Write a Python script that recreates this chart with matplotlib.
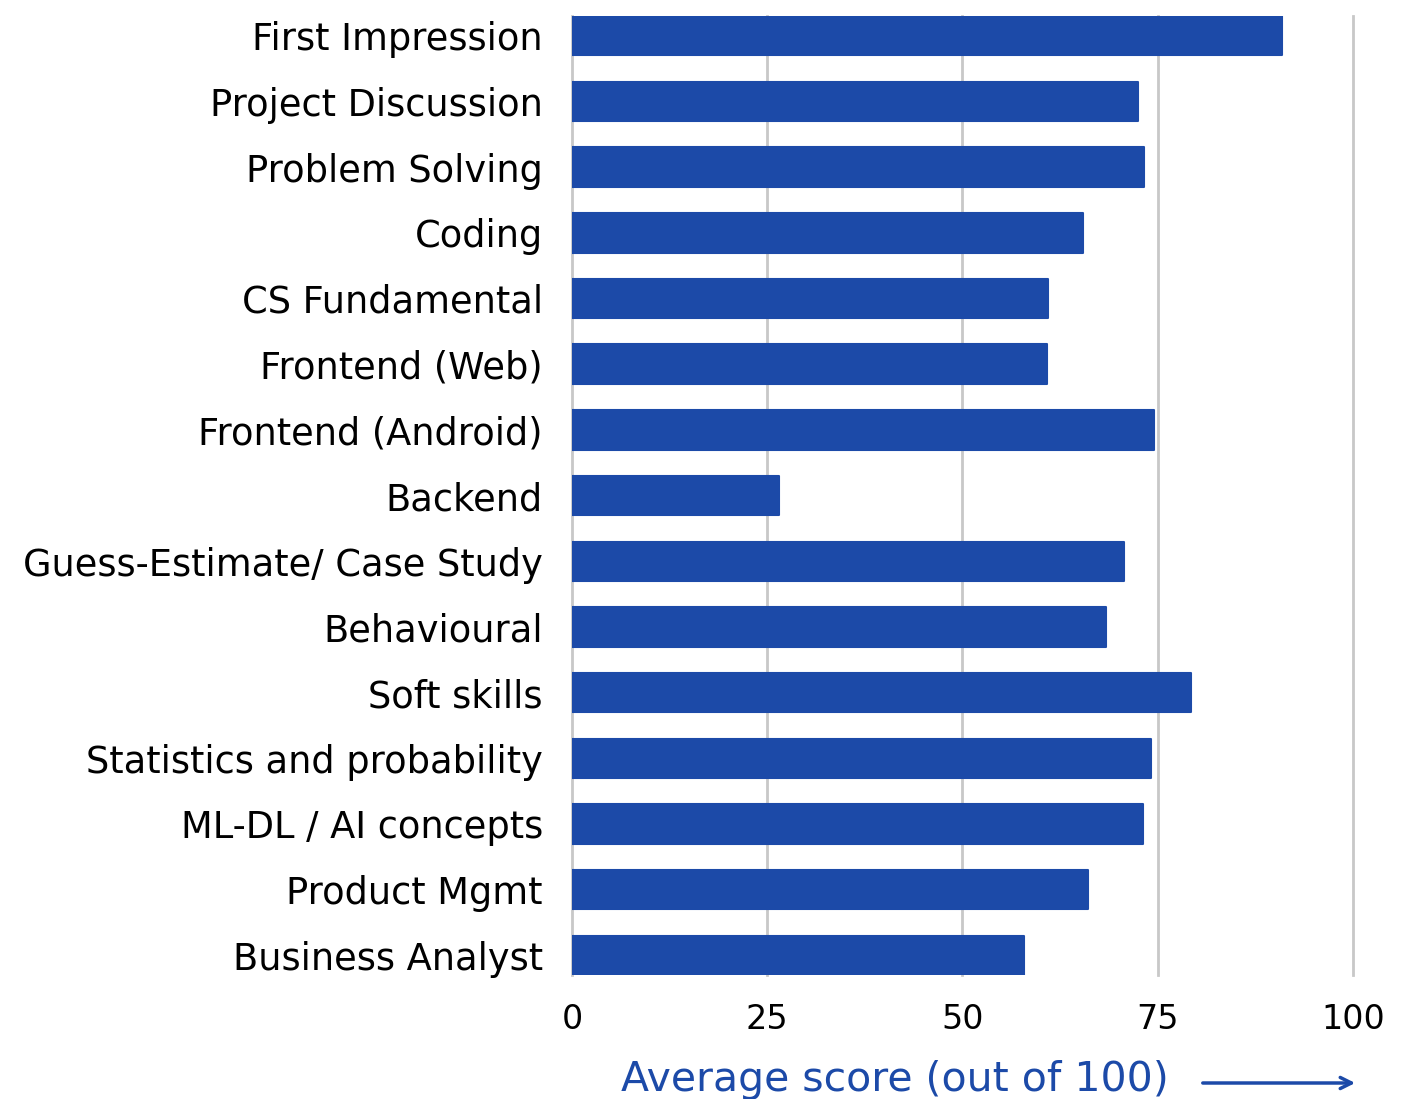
import matplotlib.pyplot as plt

categories = ['First Impression', 'Project Discussion', 'Problem Solving', 'Coding',
              'CS Fundamental', 'Frontend (Web)', 'Frontend (Android)', 'Backend',
              'Guess-Estimate/ Case Study', 'Behavioural', 'Soft skills',
              'Statistics and probability', 'ML-DL / AI concepts', 'Product Mgmt',
              'Business Analyst']
scores = [90.9, 72.5, 73.2, 65.4, 60.9, 60.8, 74.5, 26.5, 70.7, 68.4, 79.3, 74.1,
          73.1, 66.1, 57.9]
ticks = [0, 25, 50, 75, 100]

blue = '#1c4aa8'
plt.rcParams['font.family'] = ['DejaVu Sans']

fig = plt.figure(figsize=(14.02, 10.99), dpi=100)
ax = fig.add_axes([0.408, 0.1128, 0.557, 0.8726])

y = list(range(len(categories)))
ax.barh(y, scores, height=0.6, color=blue, edgecolor=blue, linewidth=1.5,
        joinstyle='round', zorder=3)

ax.set_xlim(0, 100)
ax.set_ylim(len(categories) - 0.7, -0.3)
ax.set_yticks(y)
ax.set_yticklabels(categories, fontsize=26.5)
ax.set_xticks(ticks)
ax.set_xticklabels([str(t) for t in ticks], fontsize=24)
ax.tick_params(axis='y', length=0, pad=21)
ax.tick_params(axis='x', length=0, pad=20)
ax.grid(axis='x', color='#c8c8c8', linewidth=2, zorder=0)
for gl in ax.get_xgridlines():
    gl.set_clip_on(False)
for s in ax.spines.values():
    s.set_visible(False)

fig.text(0.638, 1 - 1080 / 1099, 'Average score (out of 100)', color=blue,
         fontsize=29.5, ha='center', va='center')
ax.annotate('', xy=(1358 / 1402, 1 - 1083 / 1099), xytext=(1200 / 1402, 1 - 1083 / 1099),
            xycoords='figure fraction', textcoords='figure fraction',
            arrowprops=dict(arrowstyle='->', color=blue, lw=2.5, mutation_scale=20))

fig.savefig('out.png', dpi=100)
